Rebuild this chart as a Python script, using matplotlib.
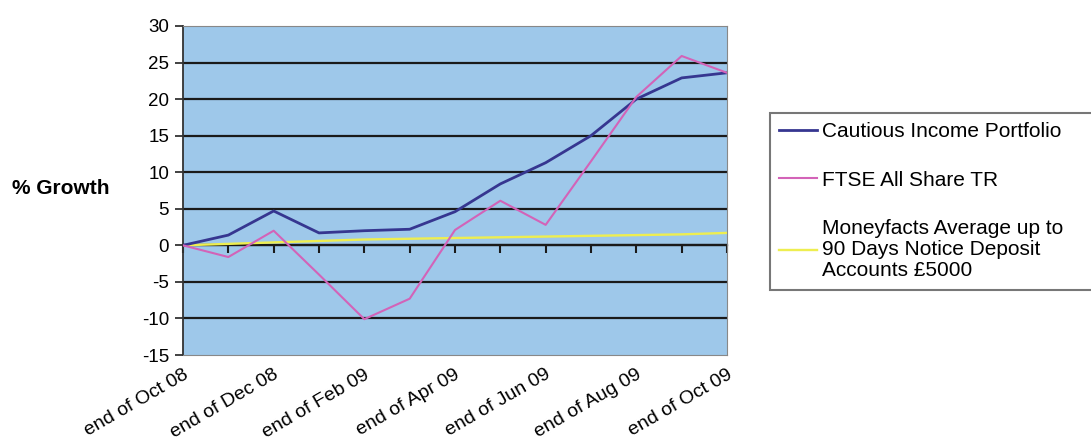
import numpy as np
import matplotlib.pyplot as plt
from matplotlib.transforms import ScaledTranslation

months = ['end of Oct 08', 'end of Nov 08', 'end of Dec 08', 'end of Jan 09',
          'end of Feb 09', 'end of Mar 09', 'end of Apr 09', 'end of May 09',
          'end of Jun 09', 'end of Jul 09', 'end of Aug 09', 'end of Sep 09',
          'end of Oct 09']
cautious = [0, 1.4, 4.7, 1.7, 2.0, 2.2, 4.6, 8.4, 11.3, 15.0, 20.0, 22.9, 23.6]
ftse = [0, -1.6, 2.0, -4.0, -10.1, -7.3, 2.1, 6.1, 2.8, 11.5, 20.3, 25.9, 23.6]
moneyfacts = [0, 0.2, 0.4, 0.6, 0.8, 0.9, 1.0, 1.1, 1.2, 1.3, 1.4, 1.5, 1.7]
labels = ['Cautious Income Portfolio', 'FTSE All Share TR',
          'Moneyfacts Average up to\n90 Days Notice Deposit\nAccounts £5000']

plt.rcParams['font.family'] = ['Liberation Sans', 'DejaVu Sans']
plt.rcParams['axes.unicode_minus'] = False

fig = plt.figure(figsize=(10.91, 4.42), dpi=100)
ax = fig.add_axes([183/1091, 1 - 355/442, (727 - 183)/1091, (355 - 26)/442])
ax.set_facecolor('#9ec8ea')

x = np.arange(len(months))
ax.plot(x, cautious, color='#363690', lw=2, label=labels[0], zorder=4)
ax.plot(x, ftse, color='#d363b8', lw=1.5, label=labels[1], zorder=4)
ax.plot(x, moneyfacts, color='#eeee50', lw=1.7, label=labels[2], zorder=3)

ax.set_xlim(0, 12)
ax.set_ylim(-15, 30)
ax.set_yticks(range(-15, 31, 5))
ax.tick_params(axis='y', labelsize=13.5, length=6, width=1.3, color='#333333', pad=4)
for g in range(-10, 30, 5):
    ax.axhline(g, color='#1a1a1a', lw=1.6, zorder=2)

ax.set_xticks(x[::2])
ax.set_xticklabels(months[::2], rotation=30, ha='right', fontsize=14)
ax.tick_params(axis='x', length=0, pad=8)
off = ScaledTranslation(8/100, 0, fig.dpi_scale_trans)
for t in ax.get_xticklabels():
    t.set_transform(t.get_transform() + off)

for s in ['top', 'right', 'bottom']:
    ax.spines[s].set_color('#888888')
ax.spines['left'].set_color('#333333')
ax.spines['left'].set_linewidth(1.3)

# tick marks sit on the zero line
sec = ax.secondary_xaxis(1/3)
sec.set_xticks(x)
sec.tick_params(length=6, width=1.5, color='#1a1a1a', labelbottom=False)
sec.spines['bottom'].set_color('#1a1a1a')
sec.spines['bottom'].set_linewidth(1.6)

fig.text(12/1091, 1 - 188/442, '% Growth', fontsize=15, fontweight='bold', va='center')

leg = fig.legend(loc='upper left', bbox_to_anchor=(770/1091, 0, 0.3, 1 - 113/442),
                 mode='expand', borderaxespad=0, fontsize=15, frameon=True,
                 fancybox=False, edgecolor='#555555', handlelength=1.8,
                 handletextpad=0.25, labelspacing=1.4, borderpad=0.45)
leg.get_frame().set_linewidth(1.5)
for t in leg.get_texts():
    t.set_linespacing(1.15)

fig.savefig('out.png', dpi=100, facecolor='white')
